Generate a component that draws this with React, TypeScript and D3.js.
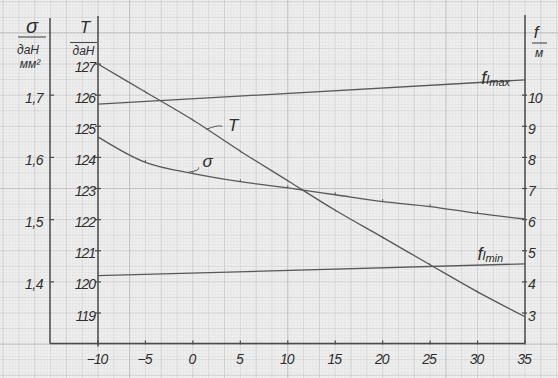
import React from 'react';
import * as d3 from 'd3';

// Temperature (°C) on the x axis
const tempX = [-10, -5, 0, 5, 10, 15, 20, 25, 30, 35];
// Tension T, даН
const tensionT = [127.0, 126.1, 125.2, 124.2, 123.25, 122.3, 121.43, 120.55, 119.68, 118.88];
// Stress σ, даН/мм²
const stressSigma = [1.633, 1.592, 1.574, 1.561, 1.551, 1.54, 1.529, 1.521, 1.51, 1.501];
// Sag lines f, м
const flX = [-10, 35];
const flMax = [9.71, 10.49];
const flMin = [4.2, 4.58];

const xTicks = [-10, -5, 0, 5, 10, 15, 20, 25, 30, 35];
const tTicks = [119, 120, 121, 122, 123, 124, 125, 126, 127];
const sigmaTicks = [1.4, 1.5, 1.6, 1.7];
const sigmaTickLabels = ['1,4', '1,5', '1,6', '1,7'];
const fTicks = [3, 4, 5, 6, 7, 8, 9, 10];

const W = 558;
const H = 378;
const INK = '#4a4a4a';
const TEXT = '#2e2e2e';
const FONT = '"Liberation Sans", "DejaVu Sans", sans-serif';

export default function App() {
  const x = d3.scaleLinear().domain([-10, 35]).range([98, 525]);
  const yT = d3.scaleLinear().domain([119, 124]).range([313, 157.4]);
  const ySig = d3.scaleLinear().domain([1.4, 1.7]).range([yT(120), yT(126)]);
  const yF = d3.scaleLinear().domain([3, 10]).range([yT(119), yT(126)]);

  const axisLeftSig = 50;
  const axisLeftT = x(-10);
  const axisRight = x(35);
  const axisBottom = yT(118.02);
  const axisTop = 16;

  // graph paper grid
  const cmY = Math.abs(yT(1) - yT(0));
  const cmX = Math.abs(x(10 / 3) - x(0));
  const gridLines: JSX.Element[] = [];
  const y0 = yT(118);
  for (let k = -400; k <= 400; k++) {
    const yy = y0 - (k * cmY) / 10;
    if (yy < -2 || yy > H + 2) continue;
    const m = ((k % 50) + 50) % 50;
    const c = m === 0 ? '#bcbcbc' : k % 10 === 0 ? '#cbcbcb' : k % 5 === 0 ? '#d2d2d2' : '#dfdfdf';
    const sw = m === 0 ? 1.2 : k % 10 === 0 ? 0.9 : k % 5 === 0 ? 0.8 : 0.5;
    gridLines.push(<line key={'h' + k} x1={0} x2={W} y1={yy} y2={yy} stroke={c} strokeWidth={sw} />);
  }
  const x0 = x(10);
  for (let k = -400; k <= 400; k++) {
    const xx = x0 + (k * cmX) / 10;
    if (xx < -2 || xx > W + 2) continue;
    const m = ((k % 50) + 50) % 50;
    const c = m === 0 ? '#c0c0c0' : k % 10 === 0 ? '#cbcbcb' : k % 5 === 0 ? '#d2d2d2' : '#dfdfdf';
    const sw = m === 0 ? 1.1 : k % 10 === 0 ? 0.9 : k % 5 === 0 ? 0.8 : 0.5;
    gridLines.push(<line key={'v' + k} y1={0} y2={H} x1={xx} x2={xx} stroke={c} strokeWidth={sw} />);
  }

  const tPts = tempX.map((t, i) => [x(t), yT(tensionT[i])] as [number, number]);
  const sPts = tempX.map((t, i) => [x(t), ySig(stressSigma[i])] as [number, number]);
  const curve = d3.line().curve(d3.curveCatmullRom.alpha(0.5));
  const straight = d3.line();
  const maxPts = flX.map((t, i) => [x(t), yF(flMax[i])] as [number, number]);
  const minPts = flX.map((t, i) => [x(t), yF(flMin[i])] as [number, number]);

  const labelStyle: React.CSSProperties = { fontFamily: FONT, fontStyle: 'italic', fill: TEXT };

  return (
    <svg width={W} height={H} style={{ position: 'absolute', left: 0, top: 0, background: '#efefef' }}>
      <rect x={0} y={0} width={W} height={H} fill="#f0f0f0" />
      <g>{gridLines}</g>

      {/* axes */}
      <g stroke={INK} strokeWidth={1.5} fill="none">
        <line x1={axisLeftSig} x2={axisLeftSig} y1={axisTop + 2} y2={axisBottom} />
        <line x1={axisLeftT} x2={axisLeftT} y1={axisTop} y2={axisBottom + 3} />
        <line x1={axisRight} x2={axisRight} y1={axisTop - 1} y2={axisBottom} />
        <line x1={axisLeftSig} x2={axisRight} y1={axisBottom} y2={axisBottom} />
      </g>

      {/* T ticks */}
      {tTicks.map((v) => (
        <g key={'t' + v}>
          <line x1={axisLeftT - 3} x2={axisLeftT + 3} y1={yT(v)} y2={yT(v)} stroke={INK} strokeWidth={1.2} />
          <text x={axisLeftT - 3} y={yT(v) + 7.5} textAnchor="end" fontSize={14} letterSpacing={-1} style={labelStyle}>
            {v}
          </text>
        </g>
      ))}
      {/* sigma ticks */}
      {sigmaTicks.map((v, i) => (
        <g key={'s' + v}>
          <line x1={axisLeftSig} x2={axisLeftSig + 4} y1={ySig(v)} y2={ySig(v)} stroke={INK} strokeWidth={1.2} />
          <text x={43} y={ySig(v) + 7.5} textAnchor="end" fontSize={14} letterSpacing={-0.5} style={labelStyle}>
            {sigmaTickLabels[i]}
          </text>
        </g>
      ))}
      {/* f ticks */}
      {fTicks.map((v) => (
        <g key={'f' + v}>
          <line x1={axisRight - 3} x2={axisRight + 2} y1={yF(v)} y2={yF(v)} stroke={INK} strokeWidth={1.2} />
          <text x={axisRight + 3} y={yF(v) + 7.5} textAnchor="start" fontSize={14} letterSpacing={-1} style={labelStyle}>
            {v}
          </text>
        </g>
      ))}
      {/* x ticks */}
      {xTicks.map((v) => (
        <g key={'x' + v}>
          <line x1={x(v)} x2={x(v)} y1={axisBottom - 3} y2={axisBottom + 1} stroke={INK} strokeWidth={1.2} />
          <text x={x(v) - 1} y={axisBottom + 21} textAnchor="middle" fontSize={14} letterSpacing={-1} style={labelStyle}>
            {v < 0 ? '\u2212' + Math.abs(v) : v}
          </text>
        </g>
      ))}

      {/* curves */}
      <g fill="none" stroke="#585858" strokeWidth={1.3}>
        <path d={straight(maxPts) || ''} />
        <path d={straight(minPts) || ''} />
        <path d={curve(tPts) || ''} />
        <path d={curve(sPts) || ''} />
      </g>
      {/* small point marks */}
      <g stroke="#585858" strokeWidth={1}>
        {sPts.slice(1, -1).map((p, i) => (
          <line key={'sm' + i} x1={p[0]} x2={p[0]} y1={p[1] - 2.5} y2={p[1]} />
        ))}
        {tPts.slice(1, -1).map((p, i) => (
          <line key={'tm' + i} x1={p[0] - 1} x2={p[0] + 1} y1={p[1] - 1.5} y2={p[1] + 1.5} />
        ))}
      </g>

      {/* curve labels */}
      <g stroke="#555" strokeWidth={1} fill="none">
        <path d={`M${x(1.4)},${yT(124.9)} Q${x(2.6)},${yT(125.05)} ${x(3.1)},${yT(125.0)}`} />
        <path d={`M${x(-0.5)},${ySig(1.576)} Q${x(0.8)},${ySig(1.579)} ${x(0.6)},${ySig(1.584)}`} />
      </g>
      <text x={x(3.7)} y={yT(124.85)} fontSize={17} style={labelStyle}>T</text>
      <text x={x(1.0)} y={ySig(1.585)} fontSize={17} style={labelStyle}>σ</text>

      <text x={x(30.4)} y={yF(10.3) - 2} style={labelStyle}>
        <tspan fontSize={18}>f</tspan>
        <tspan fontSize={13}>l</tspan>
        <tspan fontSize={11} dy={2}>max</tspan>
      </text>
      <text x={x(30.0)} y={yF(4.6) - 3} style={labelStyle}>
        <tspan fontSize={18}>f</tspan>
        <tspan fontSize={13}>l</tspan>
        <tspan fontSize={11} dy={2}>min</tspan>
      </text>

      {/* axis headers */}
      <text x={32} y={33} textAnchor="middle" fontSize={20} style={labelStyle}>σ</text>
      <line x1={18} x2={46} y1={37} y2={37} stroke={INK} strokeWidth={1.1} />
      <text x={28} y={54} textAnchor="middle" fontSize={12} style={labelStyle}>даН</text>
      <text x={30} y={68} textAnchor="middle" fontSize={12} style={labelStyle}>мм²</text>

      <text x={85} y={33} textAnchor="middle" fontSize={17} style={labelStyle}>T</text>
      <line x1={70} x2={97} y1={42.5} y2={42.5} stroke={INK} strokeWidth={1.1} />
      <text x={83.5} y={55} textAnchor="middle" fontSize={12} style={labelStyle}>даН</text>

      <text x={536} y={38} textAnchor="middle" fontSize={17} style={labelStyle}>f</text>
      <line x1={532} x2={547} y1={43} y2={43} stroke={INK} strokeWidth={1.1} />
      <text x={539} y={57} textAnchor="middle" fontSize={12} style={labelStyle}>м</text>
    </svg>
  );
}
